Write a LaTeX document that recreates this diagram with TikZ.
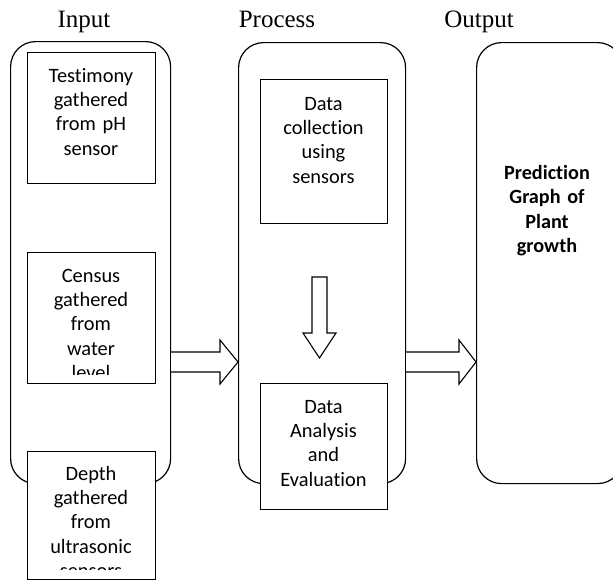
\documentclass[tikz,border=0pt]{standalone}
\usepackage{fontspec}
\usetikzlibrary{calc}
\setmainfont{Liberation Serif}
\newfontfamily\cfont[Ligatures=NoCommon]{Carlito}
\begin{document}
\begin{tikzpicture}[x=1pt,y=-1pt,
  outerbox/.style={draw, line width=1.2pt, rounded corners=25pt, inner sep=0pt, anchor=north west},
  inbox/.style={draw, fill=white, line width=1pt, inner sep=0pt, anchor=north west},
  txt/.style={font=\cfont\fontsize{20.4}{24.4}\selectfont, text width=126pt, align=center, anchor=base, inner sep=0pt},
  btxt/.style={font=\cfont\bfseries\fontsize{20.2}{24.4}\selectfont, text width=126pt, align=center, anchor=base, inner sep=0pt},
  title/.style={font=\fontsize{25}{30}\selectfont, anchor=base, inner sep=0pt},
  blockarrow/.style={draw, fill=white, line width=1.1pt, line join=miter}
]
\clip (0,0) rectangle (613,581);
\fill[white] (0,0) rectangle (613,581);

% titles
\node[title] (tin) at (84,27) {Input};
\node[title] (tpr) at (277,27) {Process};
\node[title] (tout) at (479,27) {Output};

% outer rounded boxes
\node[outerbox, minimum width=160pt, minimum height=442pt] (inp) at (10,41) {};
\node[outerbox, minimum width=167pt, minimum height=441pt] (proc) at (238,42) {};
\node[outerbox, minimum width=146pt, minimum height=441pt] (outp) at (476,42) {};

% block arrows between outer boxes
\coordinate (a1s) at (inp.east |- 0,362);
\coordinate (a1t) at (proc.west |- 0,362);
\draw[blockarrow] ($(a1s)+(0,-10)$) -- ($(a1t)+(-18,-10)$) -- ($(a1t)+(-18,-22)$) -- (a1t)
  -- ($(a1t)+(-18,22)$) -- ($(a1t)+(-18,10)$) -- ($(a1s)+(0,10)$);
\coordinate (a2s) at (proc.east |- 0,362);
\coordinate (a2t) at (outp.west |- 0,362);
\draw[blockarrow] ($(a2s)+(0,-10)$) -- ($(a2t)+(-17,-10)$) -- ($(a2t)+(-17,-22)$) -- (a2t)
  -- ($(a2t)+(-17,22)$) -- ($(a2t)+(-17,10)$) -- ($(a2s)+(0,10)$);

% input inner boxes
\node[inbox, minimum width=128pt, minimum height=131pt] (b1) at (27,52) {};
\node[inbox, minimum width=128pt, minimum height=131pt] (b2) at (27,252) {};
\node[inbox, minimum width=128pt, minimum height=128pt] (b3) at (27,451) {};
\begin{scope}
\clip ($(b1.south west)+(0,-10)$) rectangle (b1.north east);
\node[txt] (t1) at (91,82) {Testimony\\gathered\\from pH\\sensor};
\end{scope}
\begin{scope}
\clip ($(b2.south west)+(0,-10)$) rectangle (b2.north east);
\node[txt] (t2) at (91,282) {Census\\gathered\\from\\water\\level};
\end{scope}
\begin{scope}
\clip ($(b3.south west)+(0,-11)$) rectangle (b3.north east);
\node[txt] (t3) at (91,480) {Depth\\gathered\\from\\ultrasonic\\sensors};
\end{scope}

% process inner boxes
\node[inbox, minimum width=127pt, minimum height=144pt] (p1) at (260,79) {};
\node[inbox, minimum width=127pt, minimum height=126pt] (p2) at (260,383) {};
\begin{scope}
\clip ($(p1.south west)+(0,-10)$) rectangle (p1.north east);
\node[txt] (tp1) at (323.5,110) {Data\\collection\\using\\sensors};
\end{scope}
\begin{scope}
\clip ($(p2.south west)+(0,-8)$) rectangle (p2.north east);
\node[txt] (tp2) at (323.5,413) {Data\\Analysis\\and\\Evaluation};
\end{scope}

% down arrow
\coordinate (dtop) at (319.5,277);
\coordinate (dtip) at (319.5,358);
\draw[blockarrow] ($(dtop)+(-7.5,0)$) -- ($(dtop)+(7.5,0)$) -- ($(dtip)+(7.5,-25)$) -- ($(dtip)+(16.5,-25)$)
  -- (dtip) -- ($(dtip)+(-16.5,-25)$) -- ($(dtip)+(-7.5,-25)$) -- cycle;

% output text
\node[btxt] (to) at (547,179.5) {Prediction\\Graph of\\Plant\\growth};
\end{tikzpicture}
\end{document}
